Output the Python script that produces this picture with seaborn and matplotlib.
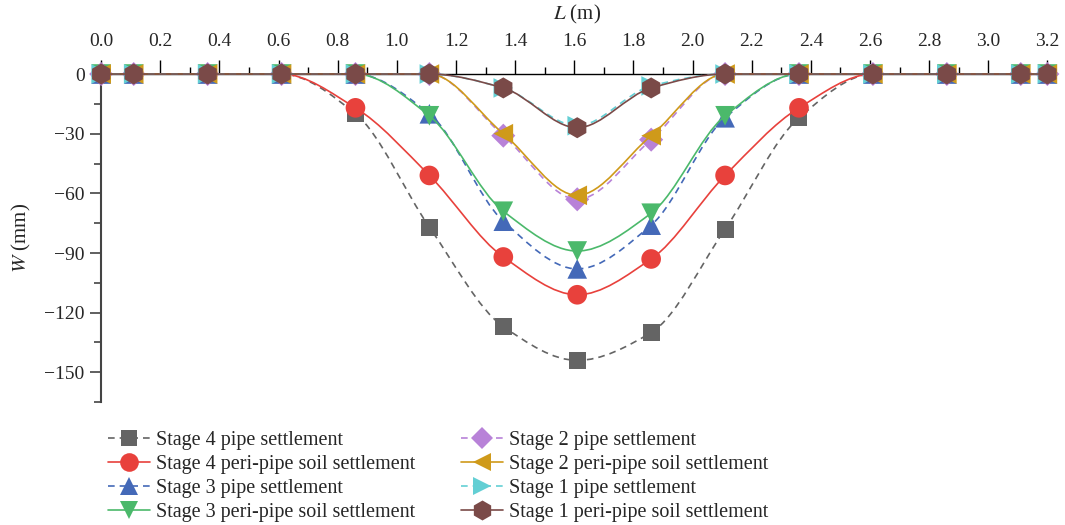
import numpy as np
import matplotlib
matplotlib.use("Agg")
import matplotlib.pyplot as plt
from matplotlib.path import Path
from matplotlib.patches import PathPatch
from matplotlib.lines import Line2D
from matplotlib.ticker import MultipleLocator
import seaborn as sns

# positions along the pipe (m)
L = [0.0, 0.11, 0.36, 0.61, 0.86, 1.11, 1.36, 1.61, 1.86, 2.11, 2.36, 2.61, 2.86, 3.11, 3.2]

# settlements (mm)
s4_pipe = [0, 0, 0, 0, -20, -77, -127, -144, -130, -78, -22, 0, 0, 0, 0]
s4_soil = [0, 0, 0, 0, -17, -51, -92, -111, -93, -51, -17, 0, 0, 0, 0]
s3_pipe = [0, 0, 0, 0, 0, -20, -74, -98, -76, -22, 0, 0, 0, 0, 0]
s3_soil = [0, 0, 0, 0, 0, -21, -69, -89, -70, -21, 0, 0, 0, 0, 0]
s2_pipe = [0, 0, 0, 0, 0, 0, -31, -63, -33, 0, 0, 0, 0, 0, 0]
s2_soil = [0, 0, 0, 0, 0, 0, -30, -61, -31, 0, 0, 0, 0, 0, 0]
s1_pipe = [0, 0, 0, 0, 0, 0, -7, -26, -6, 0, 0, 0, 0, 0, 0]
s1_soil = [0, 0, 0, 0, 0, 0, -7, -27, -7, 0, 0, 0, 0, 0, 0]

labels = ["Stage 4 pipe settlement", "Stage 4 peri-pipe soil settlement",
          "Stage 3 pipe settlement", "Stage 3 peri-pipe soil settlement",
          "Stage 2 pipe settlement", "Stage 2 peri-pipe soil settlement",
          "Stage 1 pipe settlement", "Stage 1 peri-pipe soil settlement"]
series = [s4_pipe, s4_soil, s3_pipe, s3_soil, s2_pipe, s2_soil, s1_pipe, s1_soil]
colors = ["#646464", "#e8413c", "#4469b8", "#4bb96b",
          "#b882d8", "#cf9a1a", "#63cfd4", "#7a4a48"]
markers = ["s", "o", "^", "v", "D", "<", ">", "h"]
sizes = [150, 200, 200, 200, 150, 200, 200, 230]
styles = [(0, (4, 3)), "-", (0, (4, 3)), "-", (0, (4, 3)), "-", (0, (4, 3)), "-"]


def smooth_path(x, y):
    # monotone cubic (bezier) through the measured points
    x = np.asarray(x, float)
    y = np.asarray(y, float)
    h = np.diff(x)
    d = np.diff(y) / h
    m = np.zeros_like(y)
    for i in range(1, len(x) - 1):
        if d[i - 1] * d[i] > 0:
            w1 = 2 * h[i] + h[i - 1]
            w2 = h[i] + 2 * h[i - 1]
            m[i] = (w1 + w2) / (w1 / d[i - 1] + w2 / d[i])
    verts = [(x[0], y[0])]
    codes = [Path.MOVETO]
    for i in range(len(x) - 1):
        verts += [(x[i] + h[i] / 3, y[i] + m[i] * h[i] / 3),
                  (x[i + 1] - h[i] / 3, y[i + 1] - m[i + 1] * h[i] / 3),
                  (x[i + 1], y[i + 1])]
        codes += [Path.CURVE4] * 3
    return Path(verts, codes)


sns.set_style("ticks")
plt.rcParams["font.family"] = ["Liberation Serif", "DejaVu Serif"]
plt.rcParams["mathtext.fontset"] = "stix"

fig = plt.figure(figsize=(10.65, 5.25), dpi=100)
ax = fig.add_axes([0.095, 0.234, 0.894, 0.625])

handles = []
for k, (vals, lab) in enumerate(zip(series, labels)):
    patch = PathPatch(smooth_path(L, vals), fill=False, edgecolor=colors[k],
                      lw=1.2, linestyle=styles[k], zorder=2 + k, clip_on=False)
    ax.add_patch(patch)
    sns.scatterplot(x=L, y=vals, ax=ax, marker=markers[k], s=sizes[k],
                    color=colors[k], edgecolor="none", linewidth=0,
                    zorder=3 + k, clip_on=False, legend=False)
    handles.append(Line2D([], [], color=colors[k], linestyle=styles[k], lw=1.2,
                          marker=markers[k], markersize=np.sqrt(sizes[k]) * 0.95,
                          markeredgewidth=0))

ax.set_xlim(0, 3.22)
ax.set_ylim(-165, 0)

ax.xaxis.set_ticks_position("top")
ax.xaxis.set_label_position("top")
ax.xaxis.set_major_locator(MultipleLocator(0.2))
ax.xaxis.set_minor_locator(MultipleLocator(0.1))
ax.yaxis.set_major_locator(MultipleLocator(30))
ax.yaxis.set_minor_locator(MultipleLocator(15))
ax.tick_params(axis="x", which="major", direction="out", length=10, width=1,
               labelsize=14, pad=7, color="black")
ax.tick_params(axis="x", which="minor", direction="out", length=5, width=1,
               color="black")
ax.tick_params(axis="y", which="major", direction="out", length=8, width=1.2,
               labelsize=14, pad=4, color="#444444")
ax.tick_params(axis="y", which="minor", direction="out", length=5, width=1.2,
               color="#444444")
ax.set_xticks(np.arange(0, 3.21, 0.2))
ax.set_xticklabels([f"{v:.1f}" for v in np.arange(0, 3.21, 0.2)])

ax.spines["right"].set_visible(False)
ax.spines["bottom"].set_visible(False)
ax.spines["top"].set_color("black")
ax.spines["top"].set_linewidth(1.0)
ax.spines["left"].set_color("#444444")
ax.spines["left"].set_linewidth(1.5)

ax.set_xlabel("$L$ (m)", fontsize=15, labelpad=10)
ax.set_ylabel("$W$ (mm)", fontsize=15, labelpad=8)

fig.legend(handles=handles, labels=labels, loc="upper left",
           bbox_to_anchor=(0.090, 0.202), ncol=2, frameon=False,
           fontsize=14.5, handlelength=2.1, handletextpad=0.3,
           labelspacing=0.24, columnspacing=2.25, borderpad=0.1)

fig.savefig("out.png", dpi=100)
